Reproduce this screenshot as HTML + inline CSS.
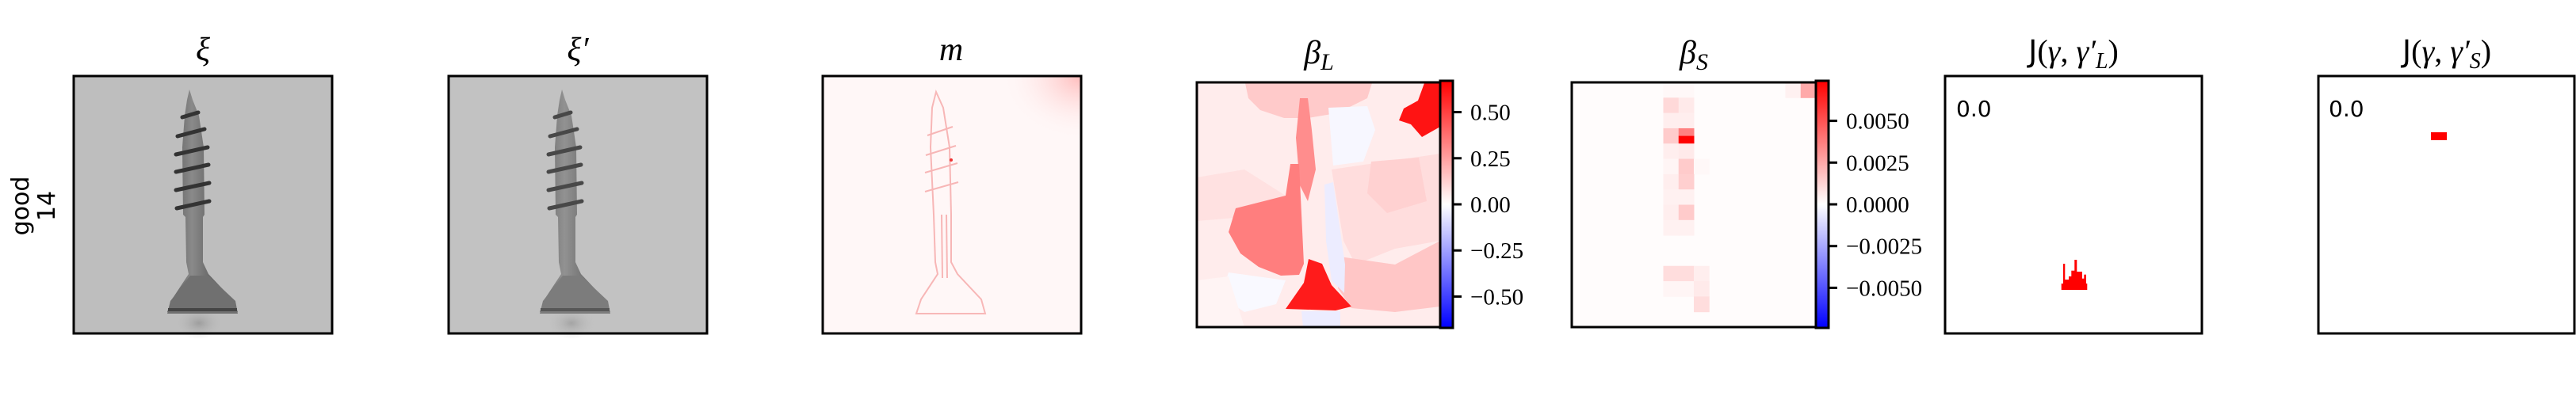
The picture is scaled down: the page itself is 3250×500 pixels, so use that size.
<!DOCTYPE html>
<html><head><meta charset="utf-8"><style>
html,body{margin:0;padding:0;background:#fff;}
svg{display:block;}
.t{font-family:"Liberation Serif",serif;font-style:italic;}
.n{font-family:"Liberation Serif",serif;font-size:29px;}
.s{font-family:"DejaVu Sans","Liberation Sans",sans-serif;}
</style></head><body>
<svg id="fig" width="3250" height="500" viewBox="0 0 3250 500" xmlns="http://www.w3.org/2000/svg">
<defs>
<linearGradient id="bwr" x1="0" y1="1" x2="0" y2="0">
<stop offset="0" stop-color="#0000ff"/><stop offset="0.5" stop-color="#ffffff"/><stop offset="1" stop-color="#ff0000"/>
</linearGradient>
<linearGradient id="shaft" x1="0" y1="0" x2="1" y2="0">
<stop offset="0" stop-color="#555"/><stop offset="0.35" stop-color="#8a8a8a"/><stop offset="0.6" stop-color="#6a6a6a"/><stop offset="1" stop-color="#4a4a4a"/>
</linearGradient>
<radialGradient id="shadow" cx="0.5" cy="0.5" r="0.5">
<stop offset="0" stop-color="#888" stop-opacity="0.6"/><stop offset="1" stop-color="#bdbdbd" stop-opacity="0"/>
</radialGradient>
<radialGradient id="corner" cx="1" cy="0" r="1">
<stop offset="0" stop-color="#fbb"/><stop offset="1" stop-color="#fff6f6" stop-opacity="0"/>
</radialGradient>
<g id="screw">
<ellipse cx="158" cy="312" rx="30" ry="20" fill="url(#shadow)"/>
<path d="M146,17 L150,30 L158,50 L164,90 L165,175 L163,178 L163,235 L170,250 L200,282 L207,298 L118,298 L124,282 L145,250 L142,235 L141,178 L138,175 L137,90 L140,50 L143,30 Z" fill="url(#shaft)"/>
<path d="M118,300 L207,300 L204,284 L170,252 L147,252 L122,284 Z" fill="#707070"/>
<path d="M119,295 L206,295" stroke="#454545" stroke-width="4"/>
<g stroke="#333" stroke-width="5" fill="none" stroke-linecap="round">
<path d="M137,52 L157,46"/><path d="M131,76 L165,67"/><path d="M129,99 L169,90"/><path d="M129,121 L170,112"/><path d="M129,144 L171,135"/><path d="M130,167 L171,158"/>
</g>
</g>
</defs>

<text class="s" font-size="30" transform="translate(36,260) rotate(-90)" text-anchor="middle">good</text>
<text class="s" font-size="30" transform="translate(69,260) rotate(-90)" text-anchor="middle">14</text>

<text class="t" style="font-size:42px" x="256" y="76" text-anchor="middle">ξ</text>
<text class="t" style="font-size:42px" x="729" y="76" text-anchor="middle">ξ′</text>
<text class="t" style="font-size:42px" x="1200" y="76" text-anchor="middle">m</text>
<text class="t" style="font-size:42px" x="1664" y="80" text-anchor="middle">β<tspan style="font-size:30px" dy="8">L</tspan></text>
<text class="t" style="font-size:42px" x="2137" y="80" text-anchor="middle">β<tspan style="font-size:30px" dy="8">S</tspan></text>
<text style="font-size:40px;font-family:'Liberation Serif',serif" x="2616" y="78" text-anchor="middle"><tspan style="font-family:'DejaVu Sans',sans-serif;font-size:38px">J</tspan>(<tspan style="font-style:italic">γ</tspan>, <tspan style="font-style:italic">γ′</tspan><tspan style="font-style:italic;font-size:28px" dy="8">L</tspan><tspan dy="-8">)</tspan></text>
<text style="font-size:40px;font-family:'Liberation Serif',serif" x="3087" y="78" text-anchor="middle"><tspan style="font-family:'DejaVu Sans',sans-serif;font-size:38px">J</tspan>(<tspan style="font-style:italic">γ</tspan>, <tspan style="font-style:italic">γ′</tspan><tspan style="font-style:italic;font-size:28px" dy="8">S</tspan><tspan dy="-8">)</tspan></text>

<g transform="translate(93,96)">
<rect width="326" height="325" fill="#bebebe"/>
<use href="#screw"/>
<rect width="326" height="325" fill="none" stroke="#000" stroke-width="3"/>
</g>
<g transform="translate(566,96)">
<rect width="326" height="325" fill="#c2c2c2"/>
<use href="#screw" transform="translate(-3,0)" opacity="0.85"/>
<rect width="326" height="325" fill="none" stroke="#000" stroke-width="3"/>
</g>
<g transform="translate(1038,96)">
<rect width="326" height="325" fill="#fff7f7"/>
<rect x="226" y="0" width="100" height="80" fill="url(#corner)"/>
<g fill="none" stroke="#f7b0b0" stroke-width="2" opacity="0.9">
<path d="M143,20 L152,40 L160,90 L162,175 L162,235 L170,250 L200,282 L205,300 L118,300 L124,282 L145,250 L142,235 L140,175 L136,90 L138,40 Z"/>
<path d="M150,175 L151,255 M156,175 L157,255"/>
<path d="M132,75 L164,64 M130,100 L168,88 M129,122 L170,110 M129,146 L171,134"/>
</g>
<circle cx="162" cy="106" r="2" fill="#e33"/>
<rect width="326" height="325" fill="none" stroke="#000" stroke-width="3"/>
</g>

<g id="bl" transform="translate(1510,104)"></g>
<g id="bs" transform="translate(1983,104)"></g>

<g id="jl" transform="translate(2454,96)">
<rect width="324" height="325" fill="#fff"/>
<text class="s" style="font-size:28px" x="14" y="51">0.0</text>
</g>
<g id="js" transform="translate(2925,96)">
<rect width="323" height="325" fill="#fff"/>
<rect x="142" y="71" width="20" height="10" fill="#f00"/>
<text class="s" style="font-size:28px" x="13" y="51">0.0</text>
<rect width="323" height="325" fill="none" stroke="#000" stroke-width="3"/>
</g>

<script>
var blMax = 0.67;
var blTicks = [0.5, 0.25, 0, -0.25, -0.5];
var blTickLabels = ["0.50", "0.25", "0.00", "\u22120.25", "\u22120.50"];
var bsMax = 0.0074;
var bsTicks = [0.005, 0.0025, 0, -0.0025, -0.005];
var bsTickLabels = ["0.0050", "0.0025", "0.0000", "\u22120.0025", "\u22120.0050"];
var blRegionValues = [0.05, 0.14, 0.09, 0.15, 0.08, -0.02, 0.62, 0.30, 0.60, -0.05, -0.05, 0.34, -0.015, 0.12, 0.03];
var blRegionShapes = [
 "0,0 307,0 307,309 0,309",
 "61,1 221,1 215,20 195,30 170,40 140,45 110,45 80,35 65,20",
 "170,110 307,90 307,200 250,210 200,230 185,200",
 "180,220 250,230 307,200 307,283 250,290 195,285 178,260",
 "0,120 60,110 112,143 60,170 0,175",
 "166,32 215,30 225,60 210,100 172,105",
 "287,1 307,1 307,56 284,69 270,53 255,48 261,33 279,23",
 "130,20 140,20 145,60 150,110 140,150 130,130 125,70",
 "112,286 135,253 141,223 158,229 170,256 195,283 175,288",
 "161,129 172,126 187,230 186,266 170,250 163,200",
 "132,289 181,289 181,309 134,309",
 "40,189 49,159 112,143 118,103 129,103 135,229 129,243 106,244 78,233 55,216",
 "40,240 112,250 100,280 60,290 30,270",
 "220,100 280,95 290,150 240,165 215,140",
 "0,250 40,245 60,309 0,309"
];
var bsCols = [6,7,6,7,6,7,6,7,7,6,7,6,7,8,6,7,6,7,6,7,6,7,6,7,8,6,7,8,8,14,15];
var bsRows = [0,0,2,2,4,4,6,6,7,8,8,10,10,10,12,12,14,14,16,16,18,18,24,24,24,26,26,26,28,0,0];
var bsVals = [0.0002,0.0002,0.0011,0.0006,0.0005,0.0005,0.0015,0.0037,0.0074,0.0005,0.0006,0.0003,0.0015,0.0002,0.0005,0.0014,0.0004,0.0004,0.0005,0.0015,0.0004,0.0004,0.001,0.001,0.0005,0.0003,0.0003,0.0006,0.001,0.0004,0.0025];
var jlX0 = [149,151,156,159.3,163.3,166,168.7,172.7,175.3];
var jlX1 = [151,156,159.3,163.3,166,168.7,172.7,175.3,177.7];
var jlTop = [237,257,253,245.7,232,247,247,255.7,250.7];

var NS = "http://www.w3.org/2000/svg";
function bwr(t){
  t = Math.max(-1, Math.min(1, t));
  var r, g, b;
  if (t >= 0) { r = 255; g = b = Math.round(255 * (1 - t)); }
  else { b = 255; r = g = Math.round(255 * (1 + t)); }
  return "rgb(" + r + "," + g + "," + b + ")";
}
function mk(tag, attrs, parent){
  var e = document.createElementNS(NS, tag);
  for (var k in attrs) e.setAttribute(k, attrs[k]);
  parent.appendChild(e);
  return e;
}
function colorbar(parent, x, y, h, vmax, ticks, labels, name){
  var cb = mk("rect", {x:x, y:y, width:16, height:h, fill:"url(#bwr)", stroke:"#000", "stroke-width":3}, parent);
  
  
  var yc = y + h / 2;
  for (var i = 0; i < ticks.length; i++) {
    var ty = yc - ticks[i] / vmax * (h / 2);
    var tk = mk("line", {x1:x + 16, x2:x + 27, y1:ty, y2:ty, stroke:"#000", "stroke-width":3}, parent);
    
    
    var tl = mk("text", {x:x + 38, y:ty + 10, "class":"n"}, parent);
    tl.textContent = labels[i];
    
    
  }
}
var bl = document.getElementById("bl");
for (var i = 0; i < blRegionValues.length; i++) {
  var p = mk("polygon", {points: blRegionShapes[i], fill: bwr(blRegionValues[i] / blMax)}, bl);
  
  
}
mk("rect", {width:307, height:309, fill:"none", stroke:"#000", "stroke-width":3}, bl);
colorbar(bl, 307, -2, 312, blMax, blTicks, blTickLabels, 'beta-l');

var bs = document.getElementById("bs");
mk("rect", {width:308, height:309, fill:"#fffcfc"}, bs);
var cw = 308 / 16, ch = 309 / 32;
for (var j = 0; j < bsVals.length; j++) {
  var hh = ((bsRows[j] === 6 || bsRows[j] === 7) && bsCols[j] === 7) ? ch : ch * 2;
  var c = mk("rect", {x: bsCols[j] * cw, y: bsRows[j] * ch, width: cw + 0.5, height: hh + 0.5, fill: bwr(bsVals[j] / bsMax)}, bs);
  
  
}
mk("rect", {width:308, height:309, fill:"none", stroke:"#000", "stroke-width":3}, bs);
colorbar(bs, 308, -2, 312, bsMax, bsTicks, bsTickLabels, 'beta-s');

var jl = document.getElementById("jl");
mk("rect", {x:146.7, y:262, width:32.6, height:8, fill:"#f00"}, jl);
for (var k = 0; k < jlTop.length; k++) {
  var b = mk("rect", {x: jlX0[k], y: jlTop[k], width: jlX1[k] - jlX0[k] + 0.3, height: 270 - jlTop[k], fill:"#f00"}, jl);
  
  
}
mk("rect", {width:324, height:325, fill:"none", stroke:"#000", "stroke-width":3}, jl);
</script>
</svg>
</body></html>
